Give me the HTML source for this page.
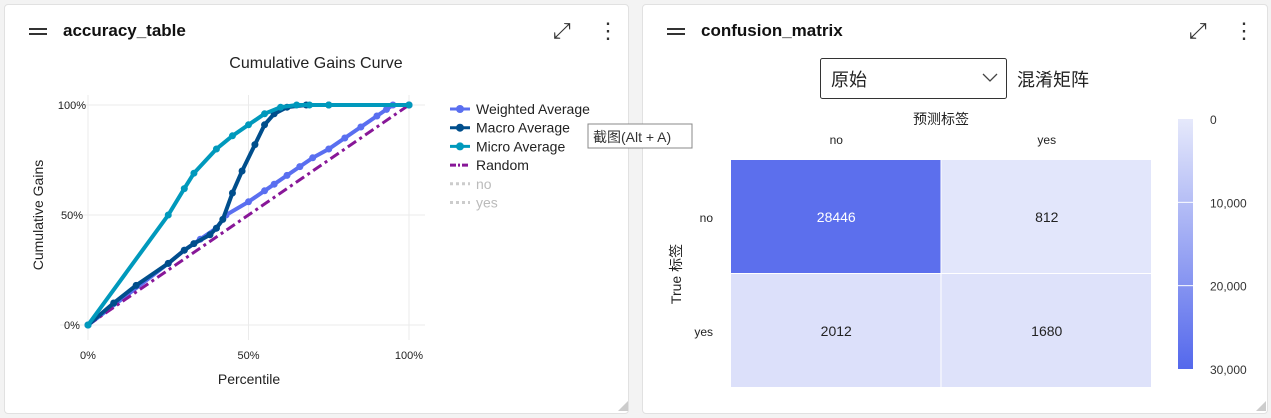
<!DOCTYPE html>
<html><head><meta charset="utf-8"><style>
body{margin:0;width:1271px;height:418px;background:#f3f3f3;font-family:"Liberation Sans","Noto Sans CJK SC",sans-serif;position:relative;overflow:hidden}
.card{position:absolute;top:4px;height:410px;background:#fff;border:1px solid #e1e1e1;border-radius:4px;box-sizing:border-box}
.title{position:absolute;top:16px;font-size:17px;font-weight:bold;color:#111}
.ham{position:absolute;top:23px;width:18px;height:2px;background:#333;box-shadow:0 5px 0 #333}
.ic{position:absolute;top:13px;font-size:22px;color:#333}
svg text{font-family:"Liberation Sans","Noto Sans CJK SC",sans-serif}
</style></head><body>
<div class="card" style="left:4px;width:625px">
 <div class="ham" style="left:24px"></div>
 <div class="title" style="left:58px">accuracy_table</div>
 <div class="ic" style="left:548px">⤢</div>
 <div class="ic" style="left:592px">⋮</div>
</div>
<div class="card" style="left:642px;width:626px">
 <div class="ham" style="left:24px"></div>
 <div class="title" style="left:58px">confusion_matrix</div>
 <div class="ic" style="left:546px">⤢</div>
 <div class="ic" style="left:590px">⋮</div>
</div>
<svg id="s" width="1271" height="418" style="position:absolute;left:0;top:0">
<text x="316" y="68" font-size="16" text-anchor="middle" fill="#222">Cumulative Gains Curve</text>
<text x="249" y="384" font-size="14" text-anchor="middle" fill="#222">Percentile</text>
<text transform="translate(43,215) rotate(-90)" font-size="14" text-anchor="middle" fill="#222">Cumulative Gains</text>
<g id="grid"></g><g id="lines"></g><g id="legend"></g><g id="hm"></g>
<g><rect x="588" y="124" width="104" height="24" fill="#fff" stroke="#888"/><text x="593" y="142" font-size="14" fill="#333">截图(Alt + A)</text></g>
<g><rect x="820.5" y="58.5" width="186" height="40" rx="2" fill="#fff" stroke="#333"/><text x="831" y="86" font-size="18" fill="#222">原始</text><path d="M983 74 l7 7 l7 -7" fill="none" stroke="#444" stroke-width="1.3"/></g>
<text x="1017" y="86" font-size="18" fill="#222">混淆矩阵</text>
<text x="941" y="124" font-size="14" text-anchor="middle" fill="#222">预测标签</text>
<text transform="translate(681,274) rotate(-90)" font-size="14" text-anchor="middle" fill="#222">True 标签</text>
<path d="M1256 411 l10 -10 v10z" fill="#ccc"/>
<path d="M618 411 l10 -10 v10z" fill="#ccc"/>
</svg>
<script>
const percentile=[0,25,30,33,40,45,50,55,60,65,69,75,100];
const microGain=[0,50,62,69,80,86,91,96,99,100,100,100,100];
const macroPct=[0,8,15,25,30,33,38,40,42,45,48,52,55,58,62,68,75,100];
const macroGain=[0,10,18,28,34,37,41,44,48,60,70,82,91,96,99,100,100,100];
const weightedPct=[0,25,30,35,40,43,50,55,58,62,66,70,75,80,85,90,93,95,100];
const weightedGain=[0,28,34,39,44,50,56,61,64,68,72,76,80,85,90,95,98,100,100];
const randomPct=[0,100];const randomGain=[0,100];
const yTicks=["0%","50%","100%"];const xTicks=["0%","50%","100%"];
const cmRows=["no","yes"];const cmCols=["no","yes"];
const cmValues=[[28446,812],[2012,1680]];
const cbTicks=[0,10000,20000,30000];
const NS="http://www.w3.org/2000/svg";
function el(t,a,p){const e=document.createElementNS(NS,t);for(const k in a)e.setAttribute(k,a[k]);document.getElementById(p).appendChild(e);return e;}
const X=v=>88+v/100*321, Y=v=>325-v/100*220;
[0,50,100].forEach((v,i)=>{
 let g=el('line',{x1:60,x2:425,y1:Y(v),y2:Y(v),stroke:'#ebebeb'},'grid');
 
 let t=el('text',{x:72,y:Y(v)+4,'font-size':11,'text-anchor':'middle',fill:'#222'},'grid');t.textContent=yTicks[i];
 
 let gv=el('line',{x1:X(v),x2:X(v),y1:95,y2:340,stroke:'#ebebeb'},'grid');
 
 let tx=el('text',{x:X(v),y:359,'font-size':11,'text-anchor':'middle',fill:'#222'},'grid');tx.textContent=xTicks[i];
 
});
function series(px,py,col,name,dash,markers){
 const pts=px.map((v,i)=>X(v)+','+Y(py[i])).join(' ');
 let l=el('polyline',{points:pts,fill:'none',stroke:col,'stroke-width':dash?3:4,'stroke-dasharray':dash||'none'},'lines');
 
 if(markers)px.forEach((v,i)=>{let c=el('circle',{cx:X(v),cy:Y(py[i]),r:3.5,fill:col},'lines');
  });
}
series(weightedPct,weightedGain,'#5a6ff0','weighted-average-line',null,true);
series(randomPct,randomGain,'#881798','random-line','10 4 3 4',false);
series(macroPct,macroGain,'#004e8c','macro-average-line',null,true);
series(percentile,microGain,'#0099bc','micro-average-line',null,true);
const leg=[['Weighted Average','#5a6ff0',0,'#222'],['Macro Average','#004e8c',0,'#222'],['Micro Average','#0099bc',0,'#222'],['Random','#881798',1,'#222'],['no','#ccc',2,'#bbb'],['yes','#ccc',2,'#bbb']];
leg.forEach((d,i)=>{const y=109+i*18.7;
 let g=el('g',{},'legend');
 const ln=document.createElementNS(NS,'line');ln.setAttribute('x1',450);ln.setAttribute('x2',470);ln.setAttribute('y1',y);ln.setAttribute('y2',y);ln.setAttribute('stroke',d[1]);ln.setAttribute('stroke-width',3);
 if(d[2]==1)ln.setAttribute('stroke-dasharray','6 2 2 2');if(d[2]==2)ln.setAttribute('stroke-dasharray','3 3');g.appendChild(ln);
 if(d[2]==0){const c=document.createElementNS(NS,'circle');c.setAttribute('cx',460);c.setAttribute('cy',y);c.setAttribute('r',4);c.setAttribute('fill',d[1]);g.appendChild(c);}
 const t=document.createElementNS(NS,'text');t.setAttribute('x',476);t.setAttribute('y',y+5);t.setAttribute('font-size',14);t.setAttribute('fill',d[3]);t.textContent=d[0];g.appendChild(t);
});
// heatmap
const c0=[230,233,251],c1=[84,104,236];
const col=v=>{const f=Math.min(1,v/30000);return 'rgb('+c0.map((a,i)=>Math.round(a+(c1[i]-a)*f)).join(',')+')';};
const HX=731,HY=160,CW=210.5,CH=114;
cmRows.forEach((r,i)=>{
 let t=el('text',{x:713,y:HY+CH*i+CH/2+5,'font-size':12,'text-anchor':'end',fill:'#222'},'hm');t.textContent=r;
 
 cmCols.forEach((c,j)=>{
  let rc=el('rect',{x:HX+CW*j,y:HY+CH*i,width:CW-1,height:CH-1,fill:col(cmValues[i][j])},'hm');
  
  let tv=el('text',{x:HX+CW*j+CW/2,y:HY+CH*i+CH/2+5,'font-size':14,'text-anchor':'middle',fill:cmValues[i][j]>15000?'#fff':'#222'},'hm');tv.textContent=cmValues[i][j];
  
 });
});
cmCols.forEach((c,j)=>{let t=el('text',{x:HX+CW*j+CW/2,y:144,'font-size':12,'text-anchor':'middle',fill:'#222'},'hm');t.textContent=c;
 });
const CB=v=>119+v/30000*250;
const defs=el('defs',{},'hm');
const lg=document.createElementNS(NS,'linearGradient');lg.setAttribute('id','cbg');lg.setAttribute('x1',0);lg.setAttribute('x2',0);lg.setAttribute('y1',0);lg.setAttribute('y2',1);
[[0,col(0)],[1,col(30000)]].forEach(s=>{const st=document.createElementNS(NS,'stop');st.setAttribute('offset',s[0]);st.setAttribute('stop-color',s[1]);lg.appendChild(st);});defs.appendChild(lg);
let cb=el('rect',{x:1178,y:CB(0),width:15,height:CB(30000)-CB(0),fill:'url(#cbg)'},'hm');

cbTicks.forEach(v=>{
 if(v>0&&v<30000){let l=el('line',{x1:1178,x2:1193,y1:CB(v),y2:CB(v),stroke:'#fff'},'hm');}
 let t=el('text',{x:1210,y:CB(v)+5,'font-size':12,fill:'#333'},'hm');t.textContent=v.toLocaleString('en-US');
 });
</script>
</body></html>
